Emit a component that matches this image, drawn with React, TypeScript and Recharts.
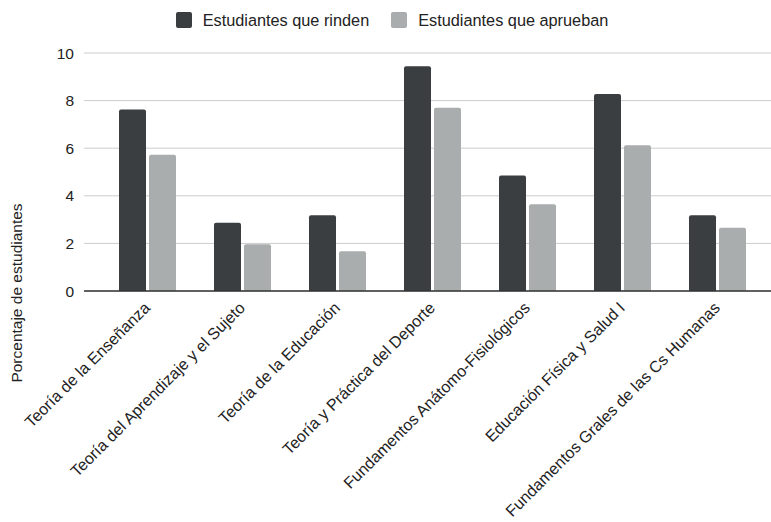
import React from "react";
import { BarChart, Bar, XAxis, YAxis, CartesianGrid, Legend } from "recharts";

const materias = [
  "Teoría de la Enseñanza",
  "Teoría del Aprendizaje y el Sujeto",
  "Teoría de la Educación",
  "Teoría y Práctica del Deporte",
  "Fundamentos Anátomo-Fisiológicos",
  "Educación Física y Salud I",
  "Fundamentos Grales de las Cs Humanas",
];
const rinden = [7.63, 2.87, 3.18, 9.44, 4.85, 8.28, 3.18];
const aprueban = [5.73, 1.96, 1.67, 7.7, 3.64, 6.12, 2.66];
const yTicks = [0, 2, 4, 6, 8, 10];

const data = materias.map((m, i) => ({ materia: m, rinden: rinden[i], aprueban: aprueban[i] }));

const FONT = "'Liberation Sans', Arial, sans-serif";
const DARK = "#3b3e41";
const LIGHT = "#aaadad";

const AngledTick = (props: any) => {
  const { x, y, payload } = props;
  return (
    <g transform={`translate(${x},${y})`}>
      <text x={-4.5} y={9.5} textAnchor="end" transform="rotate(-45)" fontSize={16.1} fill="#222" fontFamily={FONT}>
        {payload.value}
      </text>
    </g>
  );
};

const LegendContent = () => (
  <div style={{ height: 49, display: "flex", justifyContent: "center", gap: 22, paddingTop: 8, paddingRight: 11, boxSizing: "border-box", fontFamily: FONT, fontSize: 16.3, color: "#222" }}>
    {[
      { label: "Estudiantes que rinden", color: DARK },
      { label: "Estudiantes que aprueban", color: LIGHT },
    ].map((it) => (
      <div key={it.label} style={{ display: "flex", alignItems: "center", height: 16, gap: 11 }}>
        <span style={{ width: 16, height: 16, background: it.color, borderRadius: 2, display: "inline-block" }} />
        <span>{it.label}</span>
      </div>
    ))}
  </div>
);

const YLabel = () => (
  <text x={22} y={293} transform="rotate(-90, 22, 293)" textAnchor="middle" fontSize={15.5} fill="#222" fontFamily={FONT}>
    Porcentaje de estudiantes
  </text>
);

export default function App() {
  return (
    <div style={{ position: "absolute", left: 0, top: 0, width: 771, height: 522, background: "#fff" }}>
      <BarChart
        width={771}
        height={522}
        data={data}
        margin={{ top: 4, right: 0, bottom: 0, left: 24 }}
        barCategoryGap={19}
        barGap={3}
      >
        <Legend verticalAlign="top" align="center" content={<LegendContent />} />
        <CartesianGrid vertical={false} stroke="#cccccc" />
        <XAxis
          dataKey="materia"
          interval={0}
          height={231}
          tick={<AngledTick />}
          tickLine={false}
          axisLine={{ stroke: "#333", strokeWidth: 1.5 }}
          padding={{ left: 16, right: 6 }}
        />
        <YAxis
          width={60}
          domain={[0, 10]}
          ticks={yTicks}
          tickLine={false}
          axisLine={false}
          tickSize={0}
          tickMargin={10}
          tick={{ fontSize: 15.5, fill: "#222", fontFamily: FONT }}
          label={<YLabel />}
        />
        <Bar dataKey="rinden" name="Estudiantes que rinden" fill={DARK} radius={[2, 2, 0, 0]} isAnimationActive={false} />
        <Bar dataKey="aprueban" name="Estudiantes que aprueban" fill={LIGHT} radius={[2, 2, 0, 0]} isAnimationActive={false} />
      </BarChart>
    </div>
  );
}
